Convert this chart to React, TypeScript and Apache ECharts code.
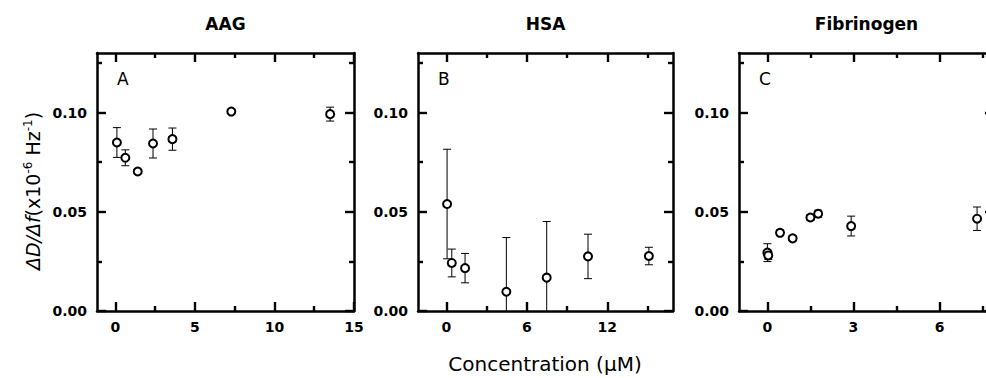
import React, { useEffect, useRef } from 'react';
import * as echarts from 'echarts';

// ---------- data ----------
const panelTitles = ['AAG', 'HSA', 'Fibrinogen'];
const panelLetters = ['A', 'B', 'C'];

const aagConc = [0.1, 0.63, 1.41, 2.37, 3.59, 7.29, 13.5];
const aagRatio = [0.0849, 0.0772, 0.0703, 0.0844, 0.0866, 0.1005, 0.0992];
const aagErr = [0.0075, 0.004, 0.001, 0.0073, 0.0056, 0.0008, 0.0035];

const hsaConc = [0.05, 0.4, 1.39, 4.47, 7.48, 10.56, 15.1];
const hsaRatio = [0.0539, 0.0242, 0.0216, 0.0097, 0.0168, 0.0275, 0.0277];
const hsaErr = [0.0276, 0.007, 0.0074, 0.0273, 0.0283, 0.0112, 0.0044];

const fibConc = [0.0, 0.03, 0.44, 0.88, 1.5, 1.77, 2.92, 7.31];
const fibRatio = [0.0294, 0.028, 0.0394, 0.0366, 0.0471, 0.049, 0.0428, 0.0465];
const fibErr = [0.0045, 0.002, 0.0015, 0.0012, 0.0015, 0.0018, 0.005, 0.0059];

const xMajorTicks = [[0, 5, 10, 15], [0, 6, 12], [0, 3, 6]];
const xMinorTicks = [[2.5, 7.5, 12.5], [3, 9, 15], [1.5, 4.5, 7.5]];
const xRanges = [[-1.15, 15], [-2.12, 16.9], [-0.99, 7.9]];
const yMajorTicks = [0, 0.05, 0.1];
const yMinorTicks = [0.025, 0.075, 0.125];
const yRange = [0, 0.13];

const xAxisTitle = 'Concentration (μM)';

// ---------- layout ----------
const gridLefts = [97, 418, 739];
const gridWidths = [257, 255, 255];
const gridTop = 53;
const gridHeight = 258;
const FONT = 'DejaVu Sans';

const panels = [
  { x: aagConc, y: aagRatio, e: aagErr },
  { x: hsaConc, y: hsaRatio, e: hsaErr },
  { x: fibConc, y: fibRatio, e: fibErr },
];

function makeAxis(
  dim: 'x' | 'y',
  gridIndex: number,
  position: string,
  values: number[],
  major: boolean,
  labels: boolean,
  line: boolean,
  range: number[]
) {
  return {
    type: 'value',
    gridIndex,
    position,
    min: range[0],
    max: range[1],
    axisLine: { show: line, onZero: false, lineStyle: { color: '#000', width: 2.5 } },
    axisTick: {
      show: true,
      inside: true,
      length: major ? 9 : 5,
      customValues: values,
      lineStyle: { color: '#000', width: 2.4 },
    },
    minorTick: { show: false },
    splitLine: { show: false },
    axisLabel: labels
      ? {
          show: true,
          customValues: values,
          margin: dim === 'x' ? 9 : 10,
          color: '#000',
          fontFamily: FONT,
          fontWeight: 'bold',
          fontSize: 14,
          formatter: (v: number) => (dim === 'y' ? v.toFixed(2) : String(v)),
        }
      : { show: false },
  };
}

export default function App() {
  const ref = useRef<HTMLDivElement>(null);
  useEffect(() => {
    if (!ref.current) return;
    const chart = echarts.init(ref.current, undefined, { renderer: 'svg' });

    const grids: any[] = [];
    const xAxes: any[] = [];
    const yAxes: any[] = [];
    const series: any[] = [];
    const graphics: any[] = [];

    panels.forEach((p, i) => {
      grids.push({
        left: gridLefts[i],
        top: gridTop,
        width: gridWidths[i],
        height: gridHeight,
        containLabel: false,
        outerBoundsMode: 'none',
      });
      const xr = xRanges[i];
      xAxes.push(makeAxis('x', i, 'bottom', xMajorTicks[i], true, true, true, xr));
      xAxes.push(makeAxis('x', i, 'bottom', xMinorTicks[i], false, false, false, xr));
      xAxes.push(makeAxis('x', i, 'top', xMajorTicks[i], true, false, true, xr));
      xAxes.push(makeAxis('x', i, 'top', xMinorTicks[i], false, false, false, xr));
      yAxes.push(makeAxis('y', i, 'left', yMajorTicks, true, true, true, yRange));
      yAxes.push(makeAxis('y', i, 'left', yMinorTicks, false, false, false, yRange));
      yAxes.push(makeAxis('y', i, 'right', yMajorTicks, true, false, true, yRange));
      yAxes.push(makeAxis('y', i, 'right', yMinorTicks, false, false, false, yRange));

      series.push({
        type: 'custom',
        xAxisIndex: 4 * i,
        yAxisIndex: 4 * i,
        silent: true,
        z: 1,
        encode: { x: 0, y: 1 },
        data: p.x.map((x, k) => [x, p.y[k], p.e[k]]),
        renderItem: (params: any, api: any) => {
          const x = api.value(0);
          const y = api.value(1);
          const e = api.value(2);
          const lowVal = Math.max(y - e, 0);
          const top = api.coord([x, y + e]);
          const bot = api.coord([x, lowVal]);
          const cap = 4;
          const style = { stroke: '#000', lineWidth: 1 };
          const children: any[] = [
            { type: 'line', shape: { x1: top[0], y1: top[1], x2: bot[0], y2: bot[1] }, style },
            { type: 'line', shape: { x1: top[0] - cap, y1: top[1], x2: top[0] + cap, y2: top[1] }, style },
          ];
          if (y - e > 0) {
            children.push({
              type: 'line',
              shape: { x1: bot[0] - cap, y1: bot[1], x2: bot[0] + cap, y2: bot[1] },
              style,
            });
          }
          return { type: 'group', children };
        },
      });
      series.push({
        type: 'scatter',
        xAxisIndex: 4 * i,
        yAxisIndex: 4 * i,
        z: 3,
        symbol: 'circle',
        symbolSize: 8,
        itemStyle: { color: '#fff', borderColor: '#000', borderWidth: 2, opacity: 1 },
        data: p.x.map((x, k) => [x, p.y[k]]),
      });

      graphics.push({
        type: 'text',
        x: gridLefts[i] + gridWidths[i] / 2,
        y: 24,
        style: {
          text: panelTitles[i],
          fill: '#000',
          font: `bold 17px "${FONT}"`,
          align: 'center',
          verticalAlign: 'middle',
        },
      });
      graphics.push({
        type: 'text',
        x: gridLefts[i] + 20,
        y: 79,
        style: {
          text: panelLetters[i],
          fill: '#000',
          font: `17px "${FONT}"`,
          align: 'left',
          verticalAlign: 'middle',
        },
      });
    });

    graphics.push({
      type: 'text',
      x: 32,
      y: 191,
      rotation: Math.PI / 2,
      style: {
        text: '{i|ΔD/Δf}{n|(x10}{s|-6}{n| Hz}{s|-1}{n|)}',
        align: 'center',
        verticalAlign: 'middle',
        fill: '#000',
        rich: {
          i: { fontFamily: FONT, fontStyle: 'italic', fontSize: 19, lineHeight: 21, verticalAlign: 'bottom', fill: '#000' },
          n: { fontFamily: FONT, fontSize: 19, lineHeight: 21, verticalAlign: 'bottom', fill: '#000' },
          s: { fontFamily: FONT, fontSize: 12, lineHeight: 12, verticalAlign: 'top', fill: '#000' },
        },
      },
    });
    graphics.push({
      type: 'text',
      x: 545,
      y: 364,
      style: {
        text: xAxisTitle,
        fill: '#000',
        font: `20px "${FONT}"`,
        align: 'center',
        verticalAlign: 'middle',
      },
    });

    chart.setOption({
      animation: false,
      backgroundColor: '#fff',
      grid: grids,
      xAxis: xAxes,
      yAxis: yAxes,
      series,
      graphic: graphics,
    });
    return () => chart.dispose();
  }, []);
  return (
    <div
      ref={ref}
      style={{ position: 'fixed', left: 0, top: 0, width: 986, height: 378, background: '#fff' }}
    />
  );
}
